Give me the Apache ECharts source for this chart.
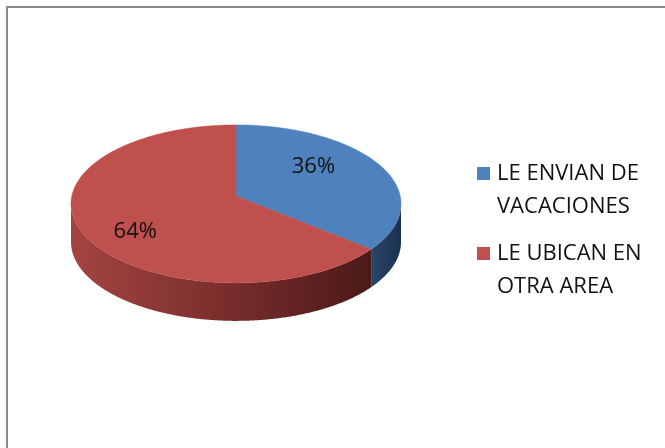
<!DOCTYPE html>
<html>
<head>
<meta charset="utf-8">
<script src="https://cdn.jsdelivr.net/npm/echarts@6/dist/echarts.min.js"></script>
<style>
html,body{margin:0;padding:0;background:#fff;}
#chart{width:665px;height:448px;}
</style>
</head>
<body>
<div id="chart"></div>
<script>
// ---- data ----
const categories = ['LE ENVIAN DE VACACIONES', 'LE UBICAN EN OTRA AREA'];
const legendLines = ['LE ENVIAN DE\nVACACIONES', 'LE UBICAN EN\nOTRA AREA'];
const values = [36, 64];
const valueLabels = ['36%', '64%'];

// ---- style / geometry ----
const topColors = ['#4f81bd', '#c0504d'];
const wallStops = [
  [{offset: 0, color: '#2a4568'}, {offset: 1, color: '#1c3150'}],
  [{offset: 0, color: '#a44441'}, {offset: 0.5, color: '#7a2f2d'}, {offset: 1, color: '#4a1918'}]
];
const CX = 236, VY = 196, SX = 164.2, SY = 78.2, K = 0.1, DEPTH = 38;
const LABEL_R = 0.68, LABEL_SHIFT = -12, LABEL_DX = -8, LABEL_DY = 2;

const total = values.reduce((s, v) => s + v, 0);
const starts = [];
values.reduce((acc, v, i) => { starts[i] = acc; return acc + v; }, 0);

function proj(thetaDeg, r) {
  const t = thetaDeg * Math.PI / 180;
  const a = r * Math.sin(t), b = -r * Math.cos(t);
  const w = 1 - K * b;
  return [CX + SX * a / w, VY + SY * b / w];
}
function arc(s, e, r) {
  const pts = [];
  const n = Math.max(2, Math.ceil(Math.abs(e - s) / 0.5));
  for (let i = 0; i <= n; i++) pts.push(proj(s + (e - s) * i / n, r));
  return pts;
}
const FRONT0 = Math.acos(-K) * 180 / Math.PI;
const FRONT1 = 360 - FRONT0;

function makeRender(idx) {
  return function (params, api) {
    const v = api.value(0);
    const s = starts[idx] / total * 360;
    const e = s + v / total * 360;
    const children = [];
    const ws = Math.max(s, FRONT0), we = Math.min(e, FRONT1);
    if (we > ws) {
      const top = arc(ws, we, 1);
      const bottom = top.slice().reverse().map(p => [p[0], p[1] + DEPTH]);
      children.push({
        type: 'polygon',
        shape: {points: top.concat(bottom)},
        style: {
          fill: {type: 'linear', x: 0, y: 0, x2: 1, y2: 0, colorStops: wallStops[idx]},
          stroke: null
        }
      });
    }
    const sector = [proj(0, 0)].concat(arc(s, e, 1));
    children.push({
      type: 'polygon',
      shape: {points: sector},
      style: {fill: topColors[idx], stroke: topColors[idx], lineWidth: 0.5}
    });
    const mid = (s + e) / 2 + LABEL_SHIFT;
    const lp = proj(mid, LABEL_R);
    children.push({
      type: 'text',
      style: {
        text: valueLabels[idx], x: lp[0] + LABEL_DX, y: lp[1] + LABEL_DY,
        align: 'center', verticalAlign: 'middle',
        fontFamily: 'Open Sans', fontSize: 22, fill: '#111'
      }
    });
    return {type: 'group', children: children};
  };
}

const chart = echarts.init(document.getElementById('chart'));
const legendTops = [124, 204];
chart.setOption({
  animation: false,
  backgroundColor: '#fff',
  graphic: [{
    type: 'rect', silent: true,
    shape: {x: 7, y: 7, width: 760, height: 560},
    style: {fill: null, stroke: '#8a8a8a', lineWidth: 2}
  }],
  legend: categories.map((c, i) => ({
    data: [c],
    left: 477, top: legendTops[i],
    padding: 0,
    icon: 'rect', itemWidth: 13, itemHeight: 13,
    selectedMode: false,
    formatter: name => '\n' + legendLines[categories.indexOf(name)],
    textStyle: {
      fontFamily: 'Open Sans', fontSize: 22, lineHeight: 33, color: '#111',
      padding: [0, 0, 0, 2]
    }
  })),
  series: categories.map((c, i) => ({
    type: 'custom',
    name: c,
    coordinateSystem: 'none',
    itemStyle: {color: topColors[i]},
    data: [[values[i]]],
    renderItem: makeRender(i)
  }))
});
</script>
</body>
</html>
